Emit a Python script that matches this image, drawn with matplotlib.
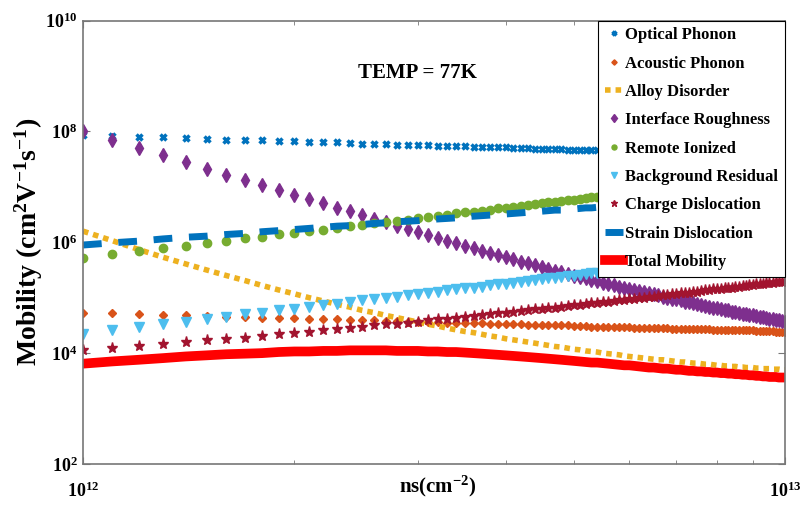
import numpy as np
import matplotlib
matplotlib.use("Agg")
import matplotlib.pyplot as plt
from matplotlib.ticker import FixedLocator, NullFormatter, NullLocator

plt.rcParams["font.family"] = ["Liberation Serif", "DejaVu Serif"]
plt.rcParams["font.weight"] = "bold"
plt.rcParams["mathtext.fontset"] = "custom"
plt.rcParams["mathtext.rm"] = "Liberation Serif:bold"
plt.rcParams["mathtext.bf"] = "Liberation Serif:bold"
plt.rcParams["mathtext.it"] = "Liberation Serif:bold"

# Sheet carrier density grid (units of 1e12 cm^-2)
ns_1e12 = [1.0, 1.1, 1.2, 1.3, 1.4, 1.5, 1.6, 1.7, 1.8, 1.9,
           2.0, 2.1, 2.2, 2.3, 2.4, 2.5, 2.6, 2.7, 2.8, 2.9,
           3.0, 3.1, 3.2, 3.3, 3.4, 3.5, 3.6, 3.7, 3.8, 3.9,
           4.0, 4.1, 4.2, 4.3, 4.4, 4.5, 4.6, 4.7, 4.8, 4.9,
           5.0, 5.1, 5.2, 5.3, 5.4, 5.5, 5.6, 5.7, 5.8, 5.9,
           6.0, 6.1, 6.2, 6.3, 6.4, 6.5, 6.6, 6.7, 6.8, 6.9,
           7.0, 7.1, 7.2, 7.3, 7.4, 7.5, 7.6, 7.7, 7.8, 7.9,
           8.0, 8.1, 8.2, 8.3, 8.4, 8.5, 8.6, 8.7, 8.8, 8.9,
           9.0, 9.1, 9.2, 9.3, 9.4, 9.5, 9.6, 9.7, 9.8, 9.9,
           10.0]

# log10 of mobility (cm^2 V^-1 s^-1) for each scattering mechanism
log_optical = [7.93, 7.92, 7.90, 7.89, 7.88, 7.87, 7.85, 7.84, 7.84, 7.83,
               7.82, 7.81, 7.80, 7.80, 7.79, 7.78, 7.78, 7.77, 7.76, 7.76,
               7.75, 7.75, 7.74, 7.74, 7.73, 7.73, 7.72, 7.72, 7.72, 7.71,
               7.71, 7.70, 7.70, 7.70, 7.69, 7.69, 7.68, 7.68, 7.68, 7.67,
               7.67, 7.67, 7.67, 7.66, 7.66, 7.66, 7.65, 7.65, 7.65, 7.64,
               7.64, 7.64, 7.64, 7.63, 7.63, 7.63, 7.63, 7.62, 7.62, 7.62,
               7.62, 7.62, 7.61, 7.61, 7.61, 7.61, 7.60, 7.60, 7.60, 7.60,
               7.60, 7.59, 7.59, 7.59, 7.59, 7.59, 7.58, 7.58, 7.58, 7.58,
               7.58, 7.58, 7.57, 7.57, 7.57, 7.57, 7.57, 7.57, 7.56, 7.56,
               7.56]
log_acoustic = [4.73, 4.72, 4.70, 4.69, 4.68, 4.67, 4.66, 4.65, 4.64, 4.64,
                4.63, 4.62, 4.61, 4.61, 4.60, 4.59, 4.59, 4.58, 4.58, 4.57,
                4.57, 4.56, 4.56, 4.55, 4.55, 4.55, 4.54, 4.54, 4.53, 4.53,
                4.53, 4.52, 4.52, 4.51, 4.51, 4.51, 4.50, 4.50, 4.50, 4.50,
                4.49, 4.49, 4.49, 4.48, 4.48, 4.48, 4.48, 4.47, 4.47, 4.47,
                4.47, 4.46, 4.46, 4.46, 4.46, 4.45, 4.45, 4.45, 4.45, 4.44,
                4.44, 4.44, 4.44, 4.44, 4.43, 4.43, 4.43, 4.43, 4.43, 4.42,
                4.42, 4.42, 4.42, 4.42, 4.42, 4.41, 4.41, 4.41, 4.41, 4.41,
                4.41, 4.40, 4.40, 4.40, 4.40, 4.40, 4.40, 4.39, 4.39, 4.39,
                4.39]
log_alloy = [6.20, 6.03, 5.87, 5.73, 5.61, 5.50, 5.40, 5.31, 5.22, 5.14,
             5.07, 5.00, 4.94, 4.88, 4.83, 4.77, 4.73, 4.68, 4.64, 4.60,
             4.56, 4.52, 4.49, 4.45, 4.42, 4.39, 4.37, 4.34, 4.31, 4.29,
             4.26, 4.24, 4.22, 4.20, 4.18, 4.16, 4.14, 4.12, 4.11, 4.09,
             4.07, 4.06, 4.04, 4.03, 4.02, 4.00, 3.99, 3.98, 3.97, 3.95,
             3.94, 3.93, 3.92, 3.91, 3.90, 3.89, 3.88, 3.88, 3.87, 3.86,
             3.85, 3.84, 3.84, 3.83, 3.82, 3.82, 3.81, 3.80, 3.80, 3.79,
             3.78, 3.78, 3.77, 3.77, 3.76, 3.76, 3.75, 3.75, 3.74, 3.74,
             3.74, 3.73, 3.73, 3.72, 3.72, 3.72, 3.71, 3.71, 3.71, 3.70,
             3.70]
log_interface = [8.00, 7.84, 7.70, 7.57, 7.45, 7.33, 7.22, 7.13, 7.03, 6.94,
                 6.86, 6.78, 6.70, 6.62, 6.56, 6.49, 6.42, 6.36, 6.30, 6.24,
                 6.19, 6.13, 6.08, 6.03, 5.98, 5.94, 5.89, 5.85, 5.81, 5.77,
                 5.73, 5.69, 5.65, 5.62, 5.59, 5.55, 5.52, 5.49, 5.46, 5.43,
                 5.40, 5.37, 5.35, 5.32, 5.30, 5.27, 5.25, 5.22, 5.20, 5.18,
                 5.16, 5.14, 5.12, 5.10, 5.08, 5.06, 5.04, 5.02, 5.00, 4.98,
                 4.97, 4.95, 4.93, 4.92, 4.90, 4.88, 4.87, 4.85, 4.84, 4.82,
                 4.81, 4.80, 4.78, 4.77, 4.75, 4.74, 4.73, 4.71, 4.70, 4.69,
                 4.68, 4.67, 4.66, 4.65, 4.63, 4.62, 4.61, 4.60, 4.59, 4.58,
                 4.57]
log_remote = [5.72, 5.78, 5.84, 5.89, 5.94, 5.98, 6.03, 6.07, 6.10, 6.14,
              6.17, 6.20, 6.23, 6.26, 6.29, 6.32, 6.34, 6.37, 6.39, 6.41,
              6.44, 6.46, 6.48, 6.50, 6.52, 6.54, 6.55, 6.57, 6.59, 6.61,
              6.62, 6.64, 6.66, 6.67, 6.69, 6.70, 6.72, 6.73, 6.74, 6.76,
              6.77, 6.78, 6.79, 6.81, 6.82, 6.83, 6.84, 6.85, 6.87, 6.88,
              6.89, 6.90, 6.91, 6.92, 6.93, 6.94, 6.95, 6.96, 6.97, 6.98,
              6.99, 7.00, 7.01, 7.01, 7.02, 7.03, 7.04, 7.05, 7.06, 7.07,
              7.07, 7.08, 7.09, 7.10, 7.11, 7.11, 7.12, 7.13, 7.14, 7.14,
              7.15, 7.16, 7.17, 7.17, 7.18, 7.19, 7.19, 7.20, 7.21, 7.21,
              7.22]
log_background = [4.35, 4.41, 4.47, 4.52, 4.57, 4.61, 4.66, 4.70, 4.73, 4.77,
                  4.80, 4.83, 4.86, 4.89, 4.92, 4.95, 4.97, 5.00, 5.02, 5.04,
                  5.07, 5.09, 5.11, 5.13, 5.15, 5.17, 5.18, 5.20, 5.22, 5.24,
                  5.25, 5.27, 5.29, 5.30, 5.32, 5.33, 5.35, 5.36, 5.37, 5.39,
                  5.40, 5.41, 5.42, 5.44, 5.45, 5.46, 5.47, 5.48, 5.50, 5.51,
                  5.52, 5.53, 5.54, 5.55, 5.56, 5.57, 5.58, 5.59, 5.60, 5.61,
                  5.62, 5.63, 5.64, 5.64, 5.65, 5.66, 5.67, 5.68, 5.69, 5.70,
                  5.70, 5.71, 5.72, 5.73, 5.74, 5.74, 5.75, 5.76, 5.77, 5.77,
                  5.78, 5.79, 5.80, 5.80, 5.81, 5.82, 5.82, 5.83, 5.84, 5.84,
                  5.85]
log_charge = [4.05, 4.09, 4.13, 4.16, 4.20, 4.23, 4.26, 4.28, 4.31, 4.34,
              4.36, 4.39, 4.41, 4.43, 4.45, 4.48, 4.50, 4.52, 4.53, 4.55,
              4.57, 4.59, 4.61, 4.62, 4.64, 4.66, 4.67, 4.69, 4.70, 4.72,
              4.73, 4.75, 4.76, 4.77, 4.79, 4.80, 4.81, 4.82, 4.84, 4.85,
              4.86, 4.87, 4.88, 4.90, 4.91, 4.92, 4.93, 4.94, 4.95, 4.96,
              4.97, 4.98, 4.99, 5.00, 5.01, 5.02, 5.03, 5.04, 5.05, 5.06,
              5.07, 5.08, 5.08, 5.09, 5.10, 5.11, 5.12, 5.13, 5.14, 5.15,
              5.15, 5.16, 5.17, 5.18, 5.18, 5.19, 5.20, 5.21, 5.21, 5.22,
              5.23, 5.24, 5.24, 5.25, 5.26, 5.27, 5.27, 5.28, 5.29, 5.29,
              5.30]
log_strain = [5.95, 5.99, 6.02, 6.06, 6.09, 6.11, 6.14, 6.16, 6.19, 6.21,
              6.23, 6.25, 6.27, 6.29, 6.30, 6.32, 6.34, 6.35, 6.37, 6.38,
              6.39, 6.41, 6.42, 6.43, 6.44, 6.46, 6.47, 6.48, 6.49, 6.50,
              6.51, 6.52, 6.53, 6.54, 6.55, 6.56, 6.57, 6.58, 6.58, 6.59,
              6.60, 6.61, 6.62, 6.62, 6.63, 6.64, 6.65, 6.65, 6.66, 6.67,
              6.67, 6.68, 6.69, 6.69, 6.70, 6.71, 6.71, 6.72, 6.72, 6.73,
              6.74, 6.74, 6.75, 6.75, 6.76, 6.76, 6.77, 6.77, 6.78, 6.79,
              6.79, 6.79, 6.80, 6.80, 6.81, 6.81, 6.82, 6.82, 6.83, 6.83,
              6.84, 6.84, 6.85, 6.85, 6.86, 6.86, 6.86, 6.87, 6.87, 6.88,
              6.88]
log_total = [3.81, 3.85, 3.88, 3.91, 3.94, 3.96, 3.98, 3.99, 4.00, 4.02,
             4.03, 4.03, 4.04, 4.04, 4.05, 4.05, 4.05, 4.05, 4.04, 4.04,
             4.04, 4.03, 4.03, 4.02, 4.02, 4.01, 4.00, 3.99, 3.98, 3.97,
             3.96, 3.95, 3.94, 3.93, 3.92, 3.91, 3.90, 3.89, 3.88, 3.87,
             3.86, 3.85, 3.84, 3.83, 3.83, 3.82, 3.81, 3.80, 3.79, 3.78,
             3.78, 3.77, 3.76, 3.75, 3.74, 3.74, 3.73, 3.72, 3.72, 3.71,
             3.70, 3.70, 3.69, 3.68, 3.68, 3.67, 3.67, 3.66, 3.66, 3.65,
             3.65, 3.64, 3.64, 3.63, 3.63, 3.62, 3.62, 3.61, 3.61, 3.60,
             3.60, 3.59, 3.59, 3.58, 3.58, 3.57, 3.57, 3.57, 3.56, 3.56,
             3.56]

labels = ["Optical Phonon", "Acoustic Phonon", "Alloy Disorder",
          "Interface Roughness", "Remote Ionized", "Background Residual",
          "Charge Dislocation", "Strain Dislocation", "Total Mobility"]

ns = np.array(ns_1e12) * 1e12


def mu(log_vals):
    return 10.0 ** np.array(log_vals)


fig = plt.figure(figsize=(8.04, 5.23), dpi=100)
ax = fig.add_axes([0.1032, 0.1128, 0.8732, 0.848])

ax.plot(ns, mu(log_optical), linestyle="none", marker="x", markersize=5,
        markeredgewidth=2.5, color="#0072BD", label=labels[0])
ax.plot(ns, mu(log_acoustic), linestyle="none", marker="D", markersize=4.5,
        color="#D95319", label=labels[1])
ax.plot(ns, mu(log_alloy), linestyle=(0, (1, 0.9)), linewidth=4,
        dash_capstyle="butt", color="#EDB120", label=labels[2])
ax.plot(ns, mu(log_interface), linestyle="none", marker="d", markersize=7.5,
        color="#7E2F8E", label=labels[3])
ax.plot(ns, mu(log_remote), linestyle="none", marker="o", markersize=6,
        color="#77AC30", label=labels[4])
ax.plot(ns, mu(log_background), linestyle="none", marker="v", markersize=6.5,
        color="#4DBEEE", label=labels[5])
ax.plot(ns, mu(log_charge), linestyle="none", marker="*", markersize=8,
        color="#A2142F", label=labels[6])
ax.plot(ns, mu(log_strain), linestyle=(0, (2.7, 2.4)), linewidth=5,
        dash_capstyle="butt", color="#0072BD", label=labels[7])
ax.plot(ns, mu(log_total), linestyle="-", linewidth=7,
        color="#FF0000", label=labels[8])

ax.set_xscale("log")
ax.set_yscale("log")
ax.set_xlim(1e12, 1e13)
ax.set_ylim(1e2, 1e10)

ax.xaxis.set_major_locator(FixedLocator([1e12, 1e13]))
ax.set_xticklabels([r"$10^{12}$", r"$10^{13}$"])
ax.xaxis.set_minor_locator(FixedLocator([k * 1e12 for k in range(2, 10)]))
ax.xaxis.set_minor_formatter(NullFormatter())
ax.yaxis.set_major_locator(FixedLocator([1e2, 1e4, 1e6, 1e8, 1e10]))
ax.set_yticklabels([r"$10^{2}$", r"$10^{4}$", r"$10^{6}$", r"$10^{8}$",
                    r"$10^{10}$"])
ax.yaxis.set_minor_locator(NullLocator())

ax.tick_params(axis="both", which="both", direction="in", top=True,
               right=True, colors="#777777", labelcolor="black",
               labelsize=13)
ax.tick_params(axis="both", which="major", length=5)
ax.tick_params(axis="both", which="minor", length=3)
ax.tick_params(axis="x", which="major", pad=13)
ax.tick_params(axis="y", which="major", pad=4)
for side in ax.spines.values():
    side.set_color("#777777")
    side.set_linewidth(1.2)

ax.set_xlabel(r"ns(cm$^{-2}$)", fontsize=15, fontweight="bold")
ax.xaxis.set_label_coords(0.505, -0.022)
ax.set_ylabel(r"Mobility (cm$^{2}$V$^{-1}$s$^{-1}$)", fontsize=20,
              fontweight="bold")
ax.yaxis.set_label_coords(-0.054, 0.5)

ax.text(0.476, 0.882, "TEMP = 77K", transform=ax.transAxes, fontsize=15,
        fontweight="bold", ha="center", va="center")

leg = ax.legend(loc="upper right", borderaxespad=0, fancybox=False,
                frameon=True, edgecolor="black", framealpha=1,
                prop={"family": "Liberation Serif", "weight": "bold",
                      "size": 12},
                labelspacing=0.74, handlelength=1.1, handletextpad=0.15,
                borderpad=0.4, markerscale=0.6)
leg.get_frame().set_linewidth(0.8)

fig.savefig("out.png", dpi=100, facecolor="white")
